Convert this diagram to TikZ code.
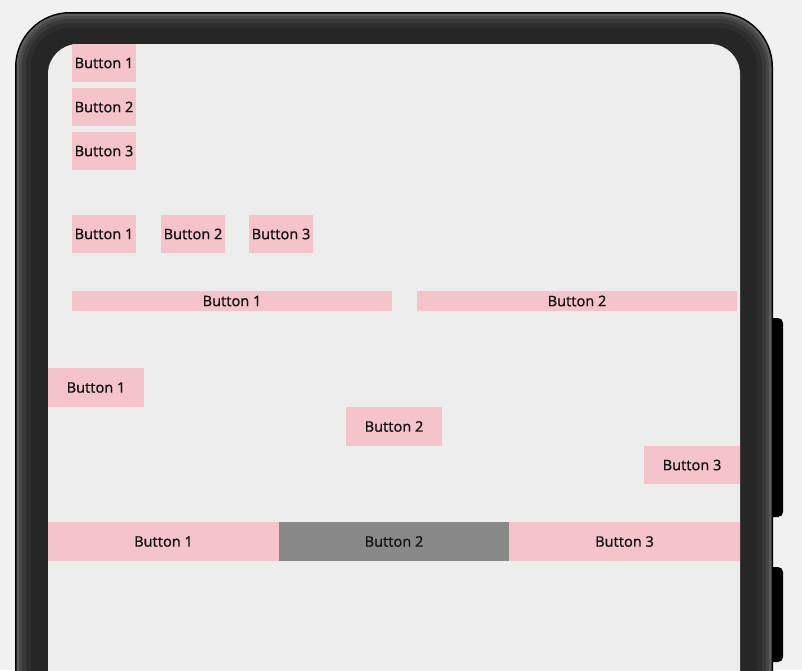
\documentclass[tikz,border=0pt]{standalone}
\usepackage{fontspec}
\newfontfamily\btnfont[FakeBold=0.6]{Noto Sans}
\definecolor{bgc}{HTML}{F1F1F1}
\definecolor{screenc}{HTML}{EDEDED}
\definecolor{pinkc}{HTML}{F5C3CA}
\definecolor{grayc}{HTML}{888888}
\definecolor{textc}{HTML}{141414}
\definecolor{fr1}{HTML}{5C5C5C}
\definecolor{fr2}{HTML}{484848}
\definecolor{fr3}{HTML}{393939}
\definecolor{fr4}{HTML}{2E2E2E}
\definecolor{fr5}{HTML}{262626}
\tikzset{
  btn/.style={fill=pinkc, inner sep=0pt, outer sep=0pt, anchor=north west,
    text=textc, font=\btnfont\fontsize{14.5}{17}\selectfont},
  btngray/.style={btn, fill=grayc},
}
\begin{document}
\begin{tikzpicture}[x=1pt,y=-1pt]
\useasboundingbox (0,0) rectangle (802,670);
\clip (0,0) rectangle (802,670);
\fill[bgc] (0,0) rectangle (802,670);
% side keys
\fill[black, rounded corners=5pt] (760,318) rectangle (783,517);
\fill[black, rounded corners=5pt] (760,567) rectangle (783,662);
% frame
\fill[black, rounded corners=55pt] (15,12) rectangle (773,760);
\fill[fr1, rounded corners=53.5pt] (16.5,13.5) rectangle (771.5,760);
\fill[fr2, rounded corners=51pt] (19,16) rectangle (769,760);
\fill[fr3, rounded corners=48pt] (22,19) rectangle (766,760);
\fill[fr4, rounded corners=44pt] (26,23) rectangle (762,760);
\fill[fr5, rounded corners=39pt] (31,28) rectangle (757,760);
% screen
\fill[screenc, rounded corners=30pt] (48,44) rectangle (740,760);
\begin{scope}
\clip[rounded corners=30pt] (48,44) rectangle (740,760);
% column
\node[btn, minimum width=64pt, minimum height=38pt] (c1) at (72,44) {Button 1};
\node[btn, minimum width=64pt, minimum height=38pt] (c2) at (72,88) {Button 2};
\node[btn, minimum width=64pt, minimum height=38pt] (c3) at (72,132) {Button 3};
% row
\node[btn, minimum width=64pt, minimum height=38pt] (r1) at (72,215) {Button 1};
\node[btn, minimum width=64pt, minimum height=38pt] (r2) at (161,215) {Button 2};
\node[btn, minimum width=64pt, minimum height=38pt] (r3) at (249,215) {Button 3};
% wide
\node[btn, minimum width=320pt, minimum height=20pt] (w1) at (72,291) {Button 1};
\node[btn, minimum width=320pt, minimum height=20pt] (w2) at (417,291) {Button 2};
% diagonal
\node[btn, minimum width=96pt, minimum height=39pt] (d1) at (48,368) {Button 1};
\node[btn, minimum width=96pt, minimum height=39pt] (d2) at (346,407) {Button 2};
\node[btn, minimum width=96pt, minimum height=38pt] (d3) at (644,446) {Button 3};
% bottom row
\node[btn, minimum width=231pt, minimum height=39pt] (b1) at (48,522) {Button 1};
\node[btngray, minimum width=230pt, minimum height=39pt] (b2) at (279,522) {Button 2};
\node[btn, minimum width=231pt, minimum height=39pt] (b3) at (509,522) {Button 3};
\end{scope}
\end{tikzpicture}
\end{document}
